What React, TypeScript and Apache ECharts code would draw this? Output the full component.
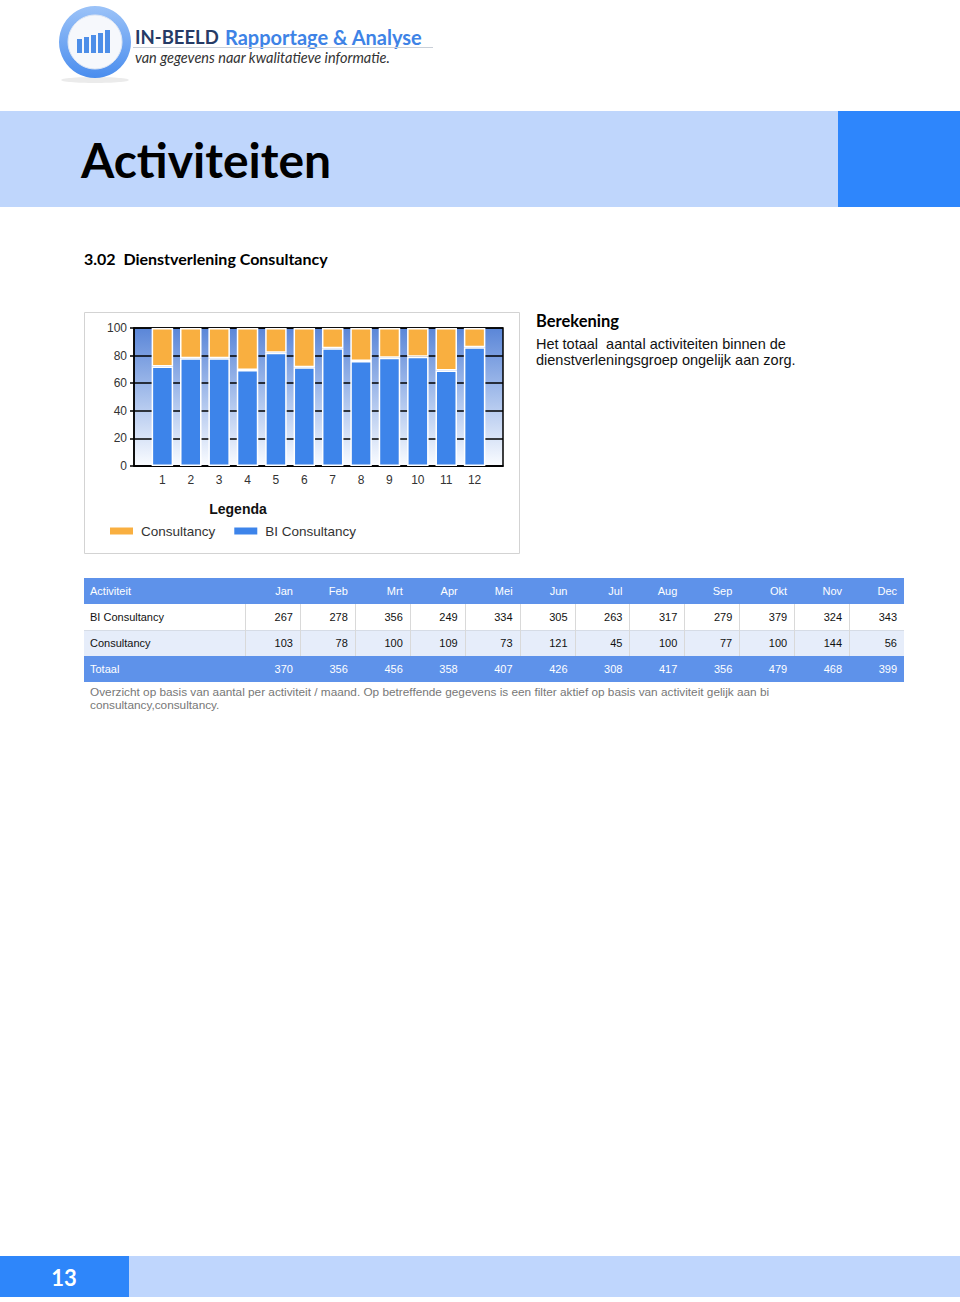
import React, { useEffect, useRef } from "react";
import * as echarts from "echarts";

// ---- Data ----
const months = ["Jan", "Feb", "Mrt", "Apr", "Mei", "Jun", "Jul", "Aug", "Sep", "Okt", "Nov", "Dec"];
const xLabels = ["1", "2", "3", "4", "5", "6", "7", "8", "9", "10", "11", "12"];
const biValues = [267, 278, 356, 249, 334, 305, 263, 317, 279, 379, 324, 343];
const consultValues = [103, 78, 100, 109, 73, 121, 45, 100, 77, 100, 144, 56];
const totals = [370, 356, 456, 358, 407, 426, 308, 417, 356, 479, 468, 399];
const seriesNames = ["BI Consultancy", "Consultancy"];
const legendOrder = ["Consultancy", "BI Consultancy"];

const SANS = '"Liberation Sans", Arial, sans-serif';
const HUM = 'Lato, "Open Sans", sans-serif';

function txt(x: number, y: number, text: string, font: string, fill: string, align = "left", extra: any = {}) {
  return {
    type: "text",
    x,
    y,
    silent: true,
    style: {
      text,
      font,
      fill,
      align,
      textAlign: align,
      verticalAlign: "middle",
      textVerticalAlign: "middle",
      ...extra,
    },
  };
}

function buildGraphics() {
  const els: any[] = [];
  // Logo
  els.push({ type: "ellipse", shape: { cx: 95, cy: 80, rx: 34, ry: 3 }, style: { fill: "rgba(0,0,0,0.08)" }, silent: true });
  els.push({
    type: "circle",
    shape: { cx: 95, cy: 42, r: 36 },
    style: {
      fill: new echarts.graphic.LinearGradient(0, 0, 0, 1, [
        { offset: 0, color: "#9CC3F8" },
        { offset: 1, color: "#4A8DEE" },
      ]),
    },
    silent: true,
  });
  els.push({ type: "circle", shape: { cx: 95, cy: 42, r: 27 }, style: { fill: "#F6F8FC", stroke: "#DDE6F4", lineWidth: 1 }, silent: true });
  const logoBars = [
    [77, 39],
    [84, 37],
    [91, 35],
    [98, 33],
    [105, 30],
  ];
  logoBars.forEach(([bx, by]) => {
    els.push({ type: "rect", shape: { x: bx, y: by, width: 5, height: 53 - by }, style: { fill: "#4D8EE8" }, silent: true });
  });
  els.push(txt(135, 37, "IN-BEELD", `bold 18.5px ${HUM}`, "#263B66"));
  els.push(txt(225, 37, "Rapportage & Analyse", `bold 20px ${HUM}`, "#3E83E6"));
  els.push({ type: "line", shape: { x1: 133, y1: 47.5, x2: 433, y2: 47.5 }, style: { stroke: "#C9CFD8", lineWidth: 1 }, silent: true });
  els.push(txt(135, 57, "van gegevens naar kwalitatieve informatie.", `italic 14.5px ${HUM}`, "#333"));

  // Title band
  els.push({ type: "rect", shape: { x: 0, y: 111, width: 838, height: 96 }, style: { fill: "#BFD6FC" }, silent: true });
  els.push({ type: "rect", shape: { x: 838, y: 111, width: 122, height: 96 }, style: { fill: "#2E86FC" }, silent: true });
  els.push(txt(81, 159, "Activiteiten", `bold 48px ${HUM}`, "#000"));

  els.push(txt(84, 258, "3.02  Dienstverlening Consultancy", `bold 16px ${HUM}`, "#000"));

  // Chart frame
  els.push({ type: "rect", shape: { x: 84.5, y: 312.5, width: 435, height: 241 }, style: { fill: "none", stroke: "#D3D3D3", lineWidth: 1 }, silent: true });
  els.push(txt(238, 509, "Legenda", `bold 14px ${SANS}`, "#111", "center"));

  // Berekening
  els.push(txt(536, 321, "Berekening", `bold 16.5px ${HUM}`, "#000"));
  els.push(txt(536, 344, "Het totaal  aantal activiteiten binnen de", `14.5px ${SANS}`, "#111"));
  els.push(txt(536, 360, "dienstverleningsgroep ongelijk aan zorg.", `14.5px ${SANS}`, "#111"));

  // Table
  const tx0 = 84;
  const tx1 = 245;
  const tx2 = 904;
  const cw = (tx2 - tx1) / months.length;
  const rowH = 26;
  const ty = 578;
  els.push({ type: "rect", shape: { x: tx0, y: ty, width: tx2 - tx0, height: rowH }, style: { fill: "#5E92EA" }, silent: true });
  els.push({ type: "rect", shape: { x: tx0, y: ty + rowH * 2, width: tx2 - tx0, height: rowH }, style: { fill: "#E6EDFA" }, silent: true });
  els.push({ type: "rect", shape: { x: tx0, y: ty + rowH * 3, width: tx2 - tx0, height: rowH }, style: { fill: "#5E92EA" }, silent: true });
  els.push({ type: "line", shape: { x1: tx0, y1: ty + rowH * 2 + 0.5, x2: tx2, y2: ty + rowH * 2 + 0.5 }, style: { stroke: "#D6DCE6", lineWidth: 1 }, silent: true });
  for (let k = 0; k < months.length; k++) {
    const bx = Math.round(tx1 + k * cw) + 0.5;
    els.push({ type: "line", shape: { x1: bx, y1: ty + rowH, x2: bx, y2: ty + rowH * 3 }, style: { stroke: "#D9D9D9", lineWidth: 1 }, silent: true });
  }
  const tf = `11px ${SANS}`;
  els.push(txt(90, ty + 13, "Activiteit", tf, "#FFFFFF"));
  els.push(txt(90, ty + 39, "BI Consultancy", tf, "#111"));
  els.push(txt(90, ty + 65, "Consultancy", tf, "#111"));
  els.push(txt(90, ty + 91, "Totaal", tf, "#FFFFFF"));
  months.forEach((m, k) => {
    const rx = tx1 + (k + 1) * cw - 7;
    els.push(txt(rx, ty + 13, m, tf, "#FFFFFF", "right"));
    els.push(txt(rx, ty + 39, String(biValues[k]), tf, "#111", "right"));
    els.push(txt(rx, ty + 65, String(consultValues[k]), tf, "#111", "right"));
    els.push(txt(rx, ty + 91, String(totals[k]), tf, "#FFFFFF", "right"));
  });
  const nf = `11.8px ${SANS}`;
  els.push(txt(90, 692, "Overzicht op basis van aantal per activiteit / maand. Op betreffende gegevens is een filter aktief op basis van activiteit gelijk aan bi", nf, "#777"));
  els.push(txt(90, 705, "consultancy,consultancy.", nf, "#777"));

  // Footer
  els.push({ type: "rect", shape: { x: 0, y: 1256, width: 129, height: 41 }, style: { fill: "#2E86FA" }, silent: true });
  els.push({ type: "rect", shape: { x: 129, y: 1256, width: 831, height: 41 }, style: { fill: "#BFD6FD" }, silent: true });
  els.push(txt(64, 1277, "13", `bold 22px ${HUM}`, "#FFFFFF", "center"));
  return els;
}

export default function App() {
  const ref = useRef<HTMLDivElement>(null);
  useEffect(() => {
    if (!ref.current) return;
    const chart = echarts.init(ref.current, undefined, { renderer: "svg" });
    // The axis has an empty slot on each side of the 12 bars.
    const cats = ["", ...xLabels, ""];
    const pad = (arr: (number | null)[]) => [null, ...arr, null];
    const biShare = pad(biValues.map((v, i) => (v / totals[i]) * 100));
    const cShare = pad(consultValues.map((v, i) => (v / totals[i]) * 100));
    chart.setOption({
      animation: false,
      backgroundColor: "#FFFFFF",
      textStyle: { fontFamily: SANS },
      grid: {
        left: 134,
        top: 328,
        width: 369,
        height: 138,
        show: true,
        borderColor: "#000",
        borderWidth: 1.5,
        backgroundColor: new echarts.graphic.LinearGradient(0, 0, 0, 1, [
          { offset: 0, color: "#5A86D8" },
          { offset: 0.5, color: "#A9C1EC" },
          { offset: 1, color: "#FAFCFF" },
        ]),
      },
      xAxis: {
        type: "category",
        data: cats,
        boundaryGap: false,
        axisLine: { show: true, lineStyle: { color: "#000", width: 1.5 } },
        axisTick: { show: false },
        splitLine: { show: false },
        axisLabel: { fontSize: 12, color: "#333", margin: 8, fontFamily: SANS, interval: 0 },
      },
      yAxis: {
        type: "value",
        min: 0,
        max: 100,
        interval: 20,
        axisLine: { show: true, lineStyle: { color: "#000", width: 1.5 } },
        axisTick: { show: true, length: 4, lineStyle: { color: "#000", width: 1.5 } },
        splitLine: { show: true, lineStyle: { color: "#000", width: 1.5 } },
        axisLabel: { fontSize: 12, color: "#333", margin: 7, fontFamily: SANS },
      },
      legend: {
        data: legendOrder,
        left: 110,
        top: 524,
        padding: 0,
        icon: "rect",
        itemWidth: 23,
        itemHeight: 7,
        itemGap: 19,
        itemStyle: { borderWidth: 0 },
        textStyle: { fontSize: 13.5, color: "#333", fontFamily: SANS, padding: [0, 0, 0, 3] },
      },
      series: [
        {
          name: seriesNames[0],
          type: "bar",
          stack: "total",
          barWidth: 21.5,
          data: biShare,
          itemStyle: { color: "#3D84EA", borderColor: "#FFFFFF", borderWidth: 1.5 },
        },
        {
          name: seriesNames[1],
          type: "bar",
          stack: "total",
          barWidth: 21.5,
          data: cShare,
          itemStyle: { color: "#F9AF40", borderColor: "#FFFFFF", borderWidth: 1.5 },
        },
      ],
      graphic: { elements: buildGraphics() },
    });
    return () => chart.dispose();
  }, []);
  return <div ref={ref} style={{ position: "absolute", left: 0, top: 0, width: 960, height: 1302 }} />;
}
